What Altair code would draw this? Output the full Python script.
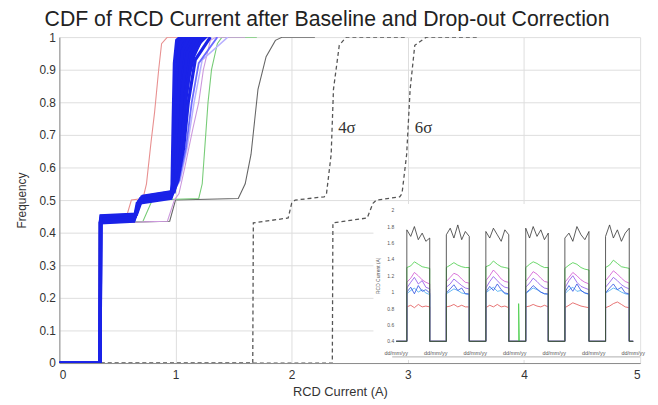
import altair as alt
import pandas as pd

# ---------------- main CDF curves (x = RCD current in A, y = frequency) ----------------
red_x = [0, 0.34, 0.345, 0.57, 0.62, 0.72, 0.75, 0.79, 0.82, 0.855, 0.88, 0.93, 1.3]
red_y = [0, 0, 0.43, 0.44, 0.50, 0.505, 0.55, 0.68, 0.77, 0.90, 0.98, 1.0, 1.0]
mag_x = [0, 0.34, 0.345, 0.93, 0.99, 1.03, 1.08, 1.15, 1.20, 1.24, 1.30, 1.35, 1.6]
mag_y = [0, 0, 0.43, 0.435, 0.50, 0.52, 0.60, 0.72, 0.80, 0.90, 0.99, 1.0, 1.0]
grn_x = [0, 0.34, 0.345, 0.72, 0.80, 1.20, 1.23, 1.26, 1.28, 1.31, 1.36, 1.40, 1.7]
grn_y = [0, 0, 0.43, 0.435, 0.50, 0.505, 0.55, 0.70, 0.80, 0.90, 0.98, 1.0, 1.0]
blk_x = [0, 0.34, 0.345, 0.95, 1.0, 1.54, 1.60, 1.65, 1.71, 1.78, 1.86, 1.92, 2.2]
blk_y = [0, 0, 0.43, 0.435, 0.50, 0.505, 0.55, 0.64, 0.84, 0.94, 0.99, 1.0, 1.0]
s4_x = [0, 1.665, 1.67, 1.97, 2.0, 2.03, 2.28, 2.30, 2.34, 2.36, 2.41, 2.47, 3.0]
s4_y = [0, 0, 0.43, 0.445, 0.49, 0.50, 0.51, 0.52, 0.64, 0.84, 0.975, 1.0, 1.0]
s6_x = [0, 2.35, 2.355, 2.65, 2.70, 2.73, 2.93, 2.95, 2.99, 3.02, 3.06, 3.16, 3.6]
s6_y = [0, 0, 0.43, 0.445, 0.49, 0.50, 0.51, 0.52, 0.64, 0.84, 0.975, 1.0, 1.0]

# blue bundle (many tests)
b1_x = [0, 0.35, 0.35, 0.64, 0.67, 0.96, 0.97, 0.98, 0.99, 1.01, 1.04]
b1_y = [0, 0, 0.430, 0.435, 0.49, 0.505, 0.55, 0.75, 0.92, 0.99, 1.0]
b2_x = [0, 0.35, 0.353, 0.645, 0.68, 0.965, 0.98, 0.995, 1.01, 1.04, 1.08]
b2_y = [0, 0, 0.435, 0.44, 0.495, 0.51, 0.56, 0.72, 0.90, 0.98, 1.0]
b3_x = [0, 0.35, 0.355, 0.65, 0.69, 0.97, 0.99, 1.01, 1.03, 1.06, 1.12]
b3_y = [0, 0, 0.44, 0.445, 0.50, 0.515, 0.56, 0.70, 0.86, 0.96, 1.0]
b4_x = [0, 0.35, 0.357, 0.655, 0.70, 0.975, 1.0, 1.03, 1.06, 1.10, 1.18]
b4_y = [0, 0, 0.445, 0.45, 0.505, 0.52, 0.57, 0.68, 0.84, 0.95, 1.0]
b5_x = [0, 0.35, 0.359, 0.66, 0.71, 0.98, 1.01, 1.05, 1.09, 1.14, 1.24]
b5_y = [0, 0, 0.45, 0.455, 0.51, 0.525, 0.56, 0.66, 0.82, 0.94, 1.0]
b6_x = [0, 0.35, 0.36, 0.665, 0.72, 0.985, 1.02, 1.07, 1.11, 1.17, 1.30]
b6_y = [0, 0, 0.452, 0.457, 0.512, 0.527, 0.56, 0.66, 0.80, 0.93, 1.0]
b7_x = [0.985, 1.03, 1.09, 1.14, 1.20, 1.36]
b7_y = [0.527, 0.56, 0.66, 0.80, 0.92, 1.0]
b8_x = [0.985, 1.04, 1.10, 1.16, 1.23, 1.45]
b8_y = [0.527, 0.56, 0.66, 0.80, 0.93, 1.0]

band_y = [0.52, 0.56, 0.62, 0.70, 0.80, 0.88, 0.94, 0.98, 1.0]
band_xl = [0.965, 0.975, 0.98, 0.985, 0.99, 0.995, 1.0, 1.01, 1.03]
band_xr = [1.0, 1.02, 1.05, 1.08, 1.10, 1.13, 1.17, 1.22, 1.28]

sigma_labels = ["4σ", "6σ"]
sigma_lx = [2.40, 3.06]
sigma_ly = [0.72, 0.72]

x_ticks = [0, 1, 2, 3, 4, 5]
y_ticks = [0, 0.1, 0.2, 0.3, 0.4, 0.5, 0.6, 0.7, 0.8, 0.9, 1.0]

# ---------------- inset: RCD current time series ----------------
pulse_start = [0.27, 1.27, 2.27, 3.28, 4.27, 5.30]
pulse_end = [0.85, 1.85, 2.85, 3.85, 4.88, 5.90]
plateau_frac = [0, 0.17, 0.33, 0.5, 0.67, 0.83, 1.0]
base_level = 0.4
series_end = 6.0

ins_black = [[1.76, 1.68, 1.80, 1.64, 1.72, 1.62, 1.66],
             [1.70, 1.78, 1.66, 1.82, 1.64, 1.74, 1.68],
             [1.74, 1.66, 1.78, 1.70, 1.62, 1.76, 1.70],
             [1.78, 1.66, 1.80, 1.68, 1.76, 1.64, 1.72],
             [1.66, 1.72, 1.62, 1.80, 1.70, 1.64, 1.74],
             [1.68, 1.82, 1.66, 1.76, 1.62, 1.72, 1.78]]
ins_green = [[1.30, 1.32, 1.37, 1.34, 1.31, 1.30, 1.29],
             [1.30, 1.33, 1.36, 1.33, 1.31, 1.30, 1.30],
             [1.31, 1.33, 1.38, 1.34, 1.31, 1.30, 1.29],
             [1.30, 1.34, 1.37, 1.35, 1.32, 1.30, 1.30],
             [1.29, 1.33, 1.36, 1.34, 1.30, 1.28, 1.27],
             [1.30, 1.33, 1.39, 1.35, 1.31, 1.30, 1.29]]
ins_magenta = [[1.12, 1.17, 1.24, 1.20, 1.15, 1.12, 1.10],
               [1.13, 1.18, 1.23, 1.21, 1.16, 1.12, 1.11],
               [1.14, 1.20, 1.27, 1.22, 1.16, 1.13, 1.12],
               [1.13, 1.19, 1.25, 1.22, 1.17, 1.13, 1.12],
               [1.12, 1.18, 1.24, 1.20, 1.15, 1.12, 1.10],
               [1.14, 1.20, 1.26, 1.22, 1.17, 1.13, 1.11]]
ins_purple = [[1.05, 1.12, 1.18, 1.10, 1.14, 1.06, 1.04],
              [1.06, 1.10, 1.16, 1.12, 1.08, 1.05, 1.04],
              [1.05, 1.13, 1.19, 1.14, 1.09, 1.06, 1.05],
              [1.06, 1.11, 1.17, 1.13, 1.08, 1.05, 1.04],
              [1.05, 1.14, 1.20, 1.12, 1.07, 1.05, 1.03],
              [1.06, 1.12, 1.18, 1.14, 1.09, 1.06, 1.04]]
ins_blue = [[1.00, 1.06, 0.98, 1.08, 1.01, 1.03, 0.99],
            [0.99, 1.04, 1.09, 1.02, 1.05, 0.98, 0.98],
            [1.00, 1.07, 1.02, 1.10, 1.03, 0.99, 0.98],
            [0.99, 1.03, 1.08, 1.04, 1.00, 0.98, 0.98],
            [1.00, 1.08, 1.01, 1.10, 1.02, 0.99, 0.98],
            [0.99, 1.05, 1.10, 1.03, 1.06, 0.99, 0.98]]
ins_cyan = [[0.98, 1.02, 1.05, 1.00, 1.03, 0.99, 0.97],
            [0.98, 1.01, 1.04, 1.02, 0.99, 0.98, 0.97],
            [0.99, 1.03, 1.06, 1.01, 1.02, 0.98, 0.97],
            [0.98, 1.02, 1.05, 1.03, 1.00, 0.98, 0.97],
            [0.98, 1.03, 1.06, 1.01, 1.02, 0.99, 0.97],
            [0.99, 1.02, 1.05, 1.03, 1.00, 0.98, 0.97]]
ins_red = [[0.82, 0.84, 0.81, 0.85, 0.82, 0.83, 0.82],
           [0.82, 0.83, 0.85, 0.82, 0.84, 0.82, 0.82],
           [0.81, 0.84, 0.82, 0.85, 0.82, 0.83, 0.81],
           [0.82, 0.83, 0.85, 0.83, 0.82, 0.84, 0.82],
           [0.81, 0.84, 0.87, 0.85, 0.83, 0.82, 0.81],
           [0.81, 0.83, 0.86, 0.88, 0.85, 0.82, 0.81]]
green_spike_t = [3.10, 3.10, 3.12]
green_spike_v = [0.4, 0.86, 0.4]

ins_ytick_vals = [0.4, 0.6, 0.8, 1.0, 1.2, 1.4, 1.6, 1.8, 2.0]
ins_ytick_text = ["0.4", "0.6", "0.8", "1", "1.2", "1.4", "1.6", "1.8", "2"]
ins_xtick_vals = [0, 1, 2, 3, 4, 5, 6]
ins_xtick_text = ["dd/mm/yy"] * 7
ins_title = "RCD Current (A)"

# ---------------- build tables ----------------
def curve_df(name, xs, ys):
    return pd.DataFrame({"curve": name, "x": xs, "y": ys, "i": range(len(xs))})

FONT = "Liberation Sans"
xs = alt.X("x:Q", scale=alt.Scale(domain=[0, 5], nice=False, zero=False),
           axis=alt.Axis(values=x_ticks, title="RCD Current (A)", format="~g",
                         labelPadding=7, titlePadding=5, titleX=284))
ys = alt.Y("y:Q", scale=alt.Scale(domain=[0, 1], nice=False, zero=False),
           axis=alt.Axis(values=y_ticks, title="Frequency", format="~g",
                         labelPadding=4, titlePadding=11))


def line_layer(df, color, width, dash=None, opacity=1.0):
    kw = dict(color=color, strokeWidth=width, opacity=opacity, clip=True)
    if dash:
        kw["strokeDash"] = dash
    return alt.Chart(df).mark_line(**kw).encode(x=xs, y=ys, detail="curve:N", order="i:Q")


band_df = pd.DataFrame({"y": band_y, "x": band_xl, "x2": band_xr})
band = alt.Chart(band_df).mark_area(orient="horizontal", color="#1a22e8").encode(
    y=ys, x=xs, x2="x2:Q")

blue_dark = pd.concat([curve_df("b%d" % k, bx, by) for k, (bx, by) in enumerate(
    [(b1_x, b1_y), (b2_x, b2_y), (b3_x, b3_y), (b4_x, b4_y), (b5_x, b5_y), (b6_x, b6_y)])])

main_layers = [
    line_layer(curve_df("s4", s4_x, s4_y), "#555555", 1.3, [4, 3]),
    line_layer(curve_df("s6", s6_x, s6_y), "#555555", 1.3, [4, 3]),
    line_layer(curve_df("blk", blk_x, blk_y), "#666666", 1.1),
    line_layer(curve_df("grn", grn_x, grn_y), "#77cc77", 1.1),
    line_layer(curve_df("red", red_x, red_y), "#e89090", 1.1),
    line_layer(curve_df("mag", mag_x, mag_y), "#cc99dd", 1.1),
    line_layer(curve_df("b8", b8_x, b8_y), "#b8b0ff", 1.5),
    line_layer(curve_df("b7", b7_x, b7_y), "#6a6aff", 1.8),
    band,
    line_layer(blue_dark, "#1a22e8", 3.2),
    alt.Chart(pd.DataFrame({"x": sigma_lx, "y": sigma_ly, "t": sigma_labels})).mark_text(
        font="Liberation Serif", fontSize=17, align="left", baseline="middle", color="#333333"
    ).encode(x=xs, y=ys, text="t:N"),
]
main = alt.layer(*main_layers)

# inset scales: placed over the lower-right part of the plot area
ix = alt.X("t:Q", scale=alt.Scale(domain=[-8.525, 6.175], nice=False, zero=False), axis=None)
iy = alt.Y("v:Q", scale=alt.Scale(domain=[0.135, 4.111], nice=False, zero=False), axis=None)


def series_df(name, plateaus, extra_t=None, extra_v=None):
    t, v = [0.0], [base_level]
    for k, vals in enumerate(plateaus):
        s, e = pulse_start[k], pulse_end[k]
        t.append(s); v.append(base_level)
        for f, val in zip(plateau_frac, vals):
            t.append(s + f * (e - s)); v.append(val)
        t.append(e); v.append(base_level)
        if extra_t is not None and k == 2:
            t.extend(extra_t); v.extend(extra_v)
    t.append(series_end); v.append(base_level)
    return pd.DataFrame({"s": name, "t": t, "v": v, "i": range(len(t))})


bg = alt.Chart(pd.DataFrame({"t": [-0.575], "t2": [6.175], "v": [0.171], "v2": [2.075]})).mark_rect(
    color="white").encode(x=ix, x2="t2:Q", y=iy, y2="v2:Q")
ins_axis = alt.Chart(pd.DataFrame({"t": [-0.1], "t2": [6.175], "v": [0.21]})).mark_rule(
    color="#999999", strokeWidth=0.8).encode(x=ix, x2="t2:Q", y=iy)

ins_specs = [
    ("red", ins_red, "#e05050"),
    ("cyan", ins_cyan, "#40a8f0"),
    ("blue", ins_blue, "#2a4ee0"),
    ("purple", ins_purple, "#8a50e8"),
    ("magenta", ins_magenta, "#d050d0"),
    ("green", ins_green, "#44cc44"),
    ("black", ins_black, "#333333"),
]
ins_lines = []
for name, vals, col in ins_specs:
    if name == "green":
        df = series_df(name, vals, green_spike_t, green_spike_v)
    else:
        df = series_df(name, vals)
    ins_lines.append(alt.Chart(df).mark_line(color=col, strokeWidth=0.8).encode(
        x=ix, y=iy, order="i:Q"))

ins_yt = alt.Chart(pd.DataFrame({"t": [-0.05] * len(ins_ytick_vals), "v": ins_ytick_vals,
                                 "txt": ins_ytick_text})).mark_text(
    font=FONT, fontSize=5, align="right", baseline="middle", color="#555555").encode(
    x=ix, y=iy, text="txt:N")
ins_xt = alt.Chart(pd.DataFrame({"t": ins_xtick_vals, "v": [0.255] * len(ins_xtick_vals),
                                 "txt": ins_xtick_text})).mark_text(
    font=FONT, fontSize=5.5, align="center", baseline="middle", color="#555555").encode(
    x=ix, y=iy, text="txt:N")
ins_tt = alt.Chart(pd.DataFrame({"t": [-0.45], "v": [1.2], "txt": [ins_title]})).mark_text(
    font=FONT, fontSize=5, angle=270, align="center", baseline="middle", color="#555555").encode(
    x=ix, y=iy, text="txt:N")

inset = alt.layer(bg, ins_axis, *ins_lines, ins_yt, ins_xt, ins_tt)

chart = alt.layer(main, inset).resolve_scale(x="independent", y="independent").properties(
    width=588, height=330,
    autosize=alt.AutoSizeParams(type="none"),
    padding={"left": 52, "top": 27, "right": 10, "bottom": 40},
    title=alt.TitleParams("CDF of RCD Current after Baseline and Drop-out Correction",
                          font=FONT, fontSize=21.5, fontWeight="normal", color="#222222",
                          anchor="middle", dx=-23, offset=1),
).configure_view(stroke=None).configure_axis(
    labelFont=FONT, titleFont=FONT, labelFontSize=12, titleFontSize=12,
    labelColor="#333333", titleColor="#333333", titleFontWeight="normal",
    domainColor="#8a8a8a", ticks=False, gridColor="#dddddd", gridWidth=1,
).configure_axisX(titleFontSize=13)

chart.save("out.html", embed_options={"renderer": "svg", "actions": False})
